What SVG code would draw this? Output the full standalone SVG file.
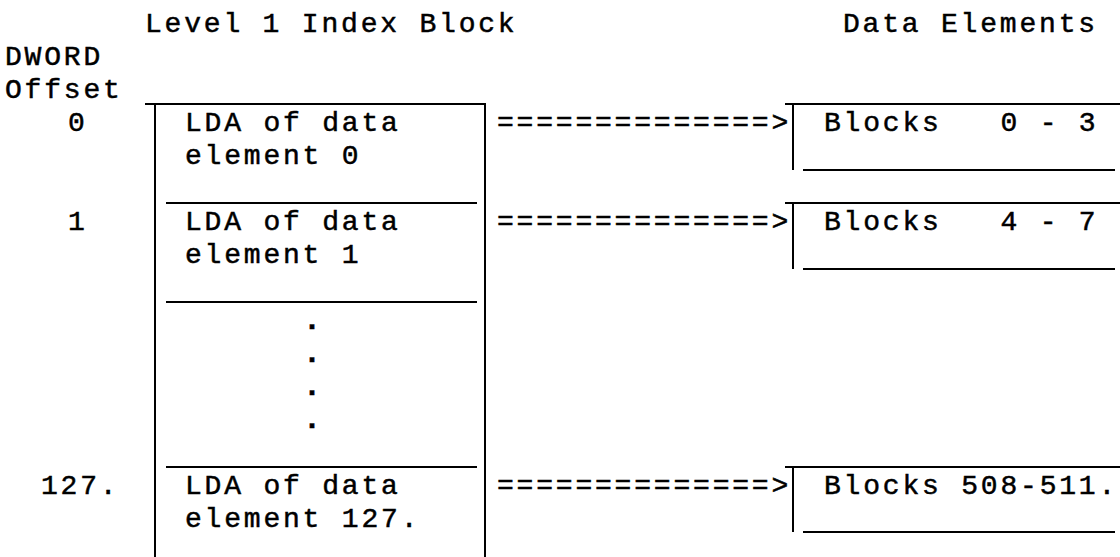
<svg xmlns="http://www.w3.org/2000/svg" width="1120" height="557" viewBox="0 0 1120 557">
<style>
text{font-family:"Liberation Mono","Courier New",monospace;font-size:28px;letter-spacing:2.8px;fill:#000;stroke:#000;stroke-width:0.5px;white-space:pre}
.ln{stroke:#000;stroke-width:2;fill:none}
.dot{font-weight:bold;text-anchor:middle;letter-spacing:0;font-size:30px}
</style>
<rect width="1120" height="557" fill="#fff"/>
<g id="headers">
<text x="145" y="32">Level 1 Index Block</text>
<text x="843" y="32">Data Elements</text>
<text x="5" y="65">DWORD</text>
<text x="5" y="98">Offset</text>
</g>
<g id="offsets">
<text x="68" y="131">0</text>
<text x="68" y="230">1</text>
<text x="41" y="494">127.</text>
</g>
<g id="index-block">
<path class="ln" d="M145 104H486M155 104V557M485 104V557M166 203H477M166 302H477M166 467H477"/>
<g id="entry-0"><text x="185" y="131">LDA of data</text><text x="185" y="164">element 0</text></g>
<g id="entry-1"><text x="185" y="230">LDA of data</text><text x="185" y="263">element 1</text></g>
<g id="ellipsis"><text class="dot" x="312" y="329">.</text><text class="dot" x="312" y="362">.</text><text class="dot" x="312" y="395">.</text><text class="dot" x="312" y="428">.</text></g>
<g id="entry-127"><text x="185" y="494">LDA of data</text><text x="185" y="527">element 127.</text></g>
</g>
<g id="data-0">
<path class="ln" d="M785 104H1120M793 104V170M803 170H1115"/>
<text x="824" y="131" xml:space="preserve">Blocks   0 - 3</text>
</g>
<g id="data-1">
<path class="ln" d="M785 203H1120M793 203V269M803 269H1115"/>
<text x="824" y="230" xml:space="preserve">Blocks   4 - 7</text>
</g>
<g id="data-127">
<path class="ln" d="M785 467H1120M793 467V532M803 532H1115"/>
<text x="824" y="494">Blocks 508-511.</text>
</g>
<g id="connectors">
<text x="497" y="131">==============&gt;</text>
<text x="497" y="230">==============&gt;</text>
<text x="497" y="494">==============&gt;</text>
</g>
</svg>
